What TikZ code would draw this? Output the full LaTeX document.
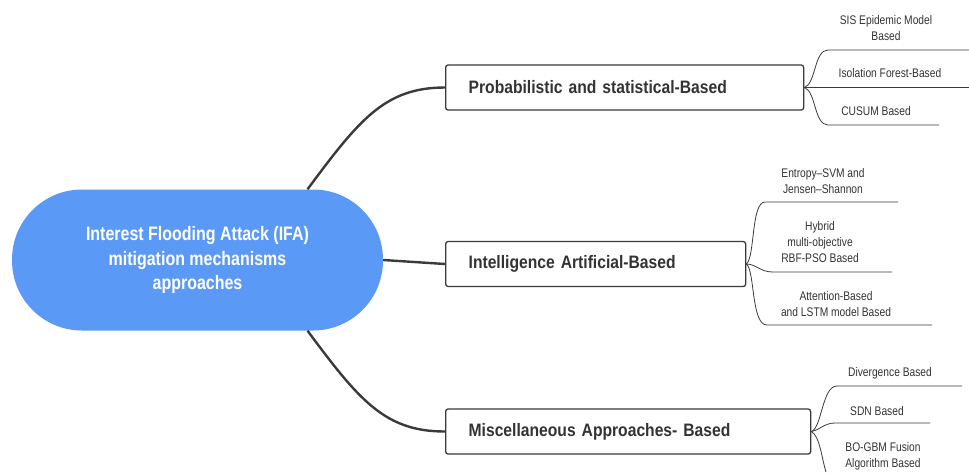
\documentclass[tikz,border=0pt]{standalone}
\usepackage{fontspec}
\setmainfont{Liberation Sans}
\newfontfamily\rbold[FakeStretch=0.82]{Liberation Sans Bold}
\newfontfamily\nbold[FakeStretch=0.87,WordSpace=0.7]{Liberation Sans Bold}
\newfontfamily\nreg[FakeStretch=0.82]{Liberation Sans}
\definecolor{rootblue}{HTML}{5B99F7}
\definecolor{ink}{HTML}{333333}
\definecolor{edge}{HTML}{3A3A3A}
\tikzset{
  rootnode/.style={fill=rootblue, rounded corners=70pt, minimum width=371pt, minimum height=141pt, inner sep=0pt,
    text=white, align=center, font=\rbold\fontsize{19.5}{24.5}\selectfont},
  branch/.style={draw=edge, line width=1.3pt, rounded corners=2.5pt, fill=white, anchor=west,
    minimum height=45pt, inner xsep=23pt, align=left, text=ink, font=\nbold\fontsize{18}{21}\selectfont},
  leaf/.style={text=ink, align=center, inner sep=0pt, font=\nreg\fontsize{12.5}{16}\selectfont},
  mainlink/.style={draw=edge, line width=2.4pt},
  leaflink/.style={draw=edge, line width=0.8pt},
}
\begin{document}
\begin{tikzpicture}[x=1pt,y=-1pt]
\useasboundingbox (0,0) rectangle (969,472);
\node[rootnode] (root) at (197.5,260) {Interest Flooding Attack (IFA)\\mitigation mechanisms\\approaches};

\node[branch, text width=312pt] (b1) at (445,87.5) {Probabilistic and statistical-Based};
\node[branch, text width=254pt] (b2) at (445,264) {Intelligence Artificial-Based};
\node[branch, text width=319pt] (b3) at (445,431.5) {Miscellaneous Approaches- Based};

\draw[mainlink] ([xshift=110pt]root.north) .. controls +(52,-70) and +(-60,0) .. (b1.west);
\draw[mainlink] (root.east) -- (b2.west);
\draw[mainlink] ([xshift=110pt]root.south) .. controls +(52,70) and +(-60,0) .. (b3.west);

% branch 1 leaves
\node[leaf] (l1a) at (886,28.5) {SIS Epidemic Model\\Based};
\node[leaf] (l1b) at (890,73.5) {Isolation Forest-Based};
\node[leaf] (l1c) at (876,111.5) {CUSUM Based};
\coordinate (u1as) at (828,50); \coordinate (u1ae) at (969,50);
\coordinate (u1be) at (969,87.5);
\coordinate (u1cs) at (828,125); \coordinate (u1ce) at (939,125);
\draw[leaflink] (b1.east) .. controls (816,84) and (814,50) .. (u1as) -- (u1ae);
\draw[leaflink] (b1.east) -- (u1be);
\draw[leaflink] (b1.east) .. controls (816,91) and (814,125) .. (u1cs) -- (u1ce);

% branch 2 leaves
\node[leaf] (l2a) at (823,181) {Entropy–SVM and\\Jensen–Shannon};
\node[leaf] (l2b) at (820,242.5) {Hybrid\\multi-objective\\RBF-PSO Based};
\node[leaf] (l2c) at (836,304.5) {Attention-Based\\and LSTM model Based};
\coordinate (u2as) at (765,202); \coordinate (u2ae) at (898,202);
\coordinate (u2bs) at (773,272); \coordinate (u2be) at (892,272);
\coordinate (u2cs) at (767,325); \coordinate (u2ce) at (932,325);
\draw[leaflink] (b2.east) .. controls (755,258) and (751,202) .. (u2as) -- (u2ae);
\draw[leaflink] (b2.east) .. controls (756,264) and (760,272) .. (u2bs) -- (u2be);
\draw[leaflink] (b2.east) .. controls (755,270) and (751,325) .. (u2cs) -- (u2ce);

% branch 3 leaves
\node[leaf] (l3a) at (890,373.5) {Divergence Based};
\node[leaf] (l3b) at (877,411.5) {SDN Based};
\node[leaf] (l3c) at (883,456.5) {BO-GBM Fusion\\Algorithm Based};
\coordinate (u3as) at (837,386); \coordinate (u3ae) at (962,386);
\coordinate (u3bs) at (835,423); \coordinate (u3be) at (930,423);
\coordinate (u3c) at (826,472);
\draw[leaflink] (b3.east) .. controls (822,428) and (822,386) .. (u3as) -- (u3ae);
\draw[leaflink] (b3.east) .. controls (820,430) and (824,423) .. (u3bs) -- (u3be);
\draw[leaflink] (b3.east) .. controls (820,436) and (822,460) .. (u3c);
\end{tikzpicture}
\end{document}
